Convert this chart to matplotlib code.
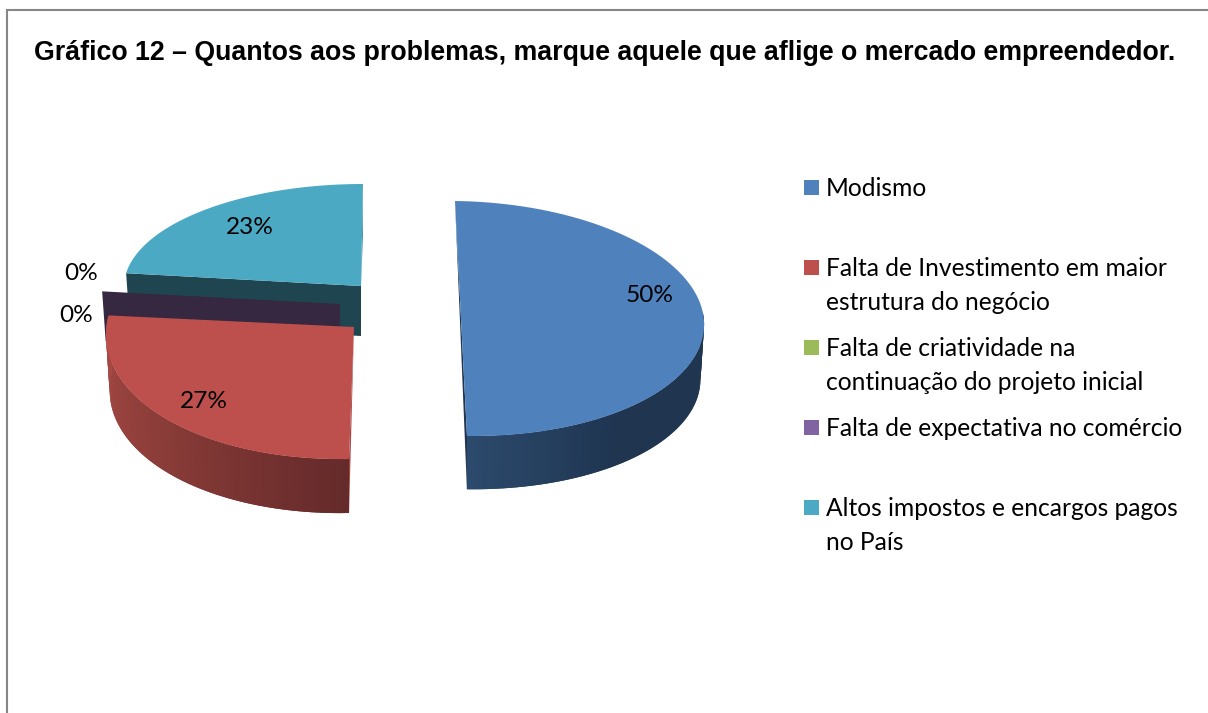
import matplotlib
matplotlib.use('Agg')
import matplotlib.pyplot as plt
from matplotlib.patches import Polygon, Rectangle
import numpy as np

title = 'Gráfico 12 – Quantos aos problemas, marque aquele que aflige o mercado empreendedor.'

categories = [
    'Modismo',
    'Falta de Investimento em maior\nestrutura do negócio',
    'Falta de criatividade na\ncontinuação do projeto inicial',
    'Falta de expectativa no comércio',
    'Altos impostos e encargos pagos\nno País',
]
values = [50, 27, 0, 0, 23]
colors = ['#4F81BD', '#BD4F4C', '#9BBB59', '#8064A2', '#4BA9C3']

W, H = 1208, 713
LOWER_SCALE = 0.985


# geometria de cada fatia em pixels: centro, vetor "direita", vetor "cima", profundidade
geom = {
    0: dict(c=(461, 318.5), right=(243, 3), up=(-6, -117.5), depth=55),
    1: dict(c=(354, 327), right=(248, -5), up=(5, -132), depth=56),
    3: dict(c=(340, 304), right=(240, 0), up=(2, -101), depth=50),
    4: dict(c=(361, 286), right=(237, 0), up=(2, -102), depth=50),
}


def pie_point(g, theta, lower=False):
    """Ponto na borda da fatia; theta em graus, horario a partir do topo"""
    t = np.radians(theta)
    k = LOWER_SCALE if lower else 1.0
    x = g['c'][0] + k * (np.sin(t) * g['right'][0] + np.cos(t) * g['up'][0])
    y = g['c'][1] + k * (np.sin(t) * g['right'][1] + np.cos(t) * g['up'][1])
    if lower:
        y += g['depth']
    return x, y


def centre(g, lower=False):
    return g['c'][0], g['c'][1] + (g['depth'] if lower else 0)


def arc(g, a, b, lower=False, n=90):
    return [pie_point(g, t, lower) for t in np.linspace(a, b, n)]


def mix(stops, f):
    pos = [s[0] for s in stops]
    rgb = np.array([matplotlib.colors.to_rgb(s[1]) for s in stops])
    return tuple(np.interp(f, pos, rgb[:, i]) for i in range(3))


def draw_side(ax, g, a, b, stops, n=70):
    """Lateral curva em tiras sobrepostas para fazer o degrade sem emendas"""
    edges = np.linspace(a, b, n + 1)
    for i in range(n):
        end = edges[min(i + 2, n)]
        pts = arc(g, edges[i], end, n=5) + arc(g, end, edges[i], lower=True, n=5)
        ax.add_patch(Polygon(pts, closed=True, facecolor=mix(stops, (i + 0.5) / n), edgecolor='none'))


def draw_top(ax, g, a, b, color):
    pts = [centre(g)] + arc(g, a, b)
    ax.add_patch(Polygon(pts, closed=True, facecolor=color, edgecolor='none'))


def draw_cut(ax, g, theta, color):
    """Face reta do corte da fatia, do centro ate a borda"""
    pts = [centre(g), pie_point(g, theta), pie_point(g, theta, True), centre(g, True)]
    ax.add_patch(Polygon(pts, closed=True, facecolor=color, edgecolor='none'))


bounds = np.concatenate([[0], np.cumsum(values)]) * 360 / sum(values)

fig = plt.figure(figsize=(W / 100, H / 100), dpi=100)
ax = fig.add_axes([0, 0, 1, 1])
ax.set_xlim(0, W)
ax.set_ylim(H, 0)
ax.axis('off')

# moldura: so aparecem o lado esquerdo e o topo
ax.plot([6.5, 6.5, W], [H, 9.5, 9.5], color='#868686', linewidth=1.5, solid_joinstyle='miter')

ax.text(34, 52.5, title, fontsize=19.25, fontweight='bold', family='Liberation Sans',
        color='black', va='center', ha='left')

# fatia 5 (fundo)
g = geom[4]
ax.add_patch(Polygon([pie_point(g, bounds[5]), pie_point(g, bounds[5], True), centre(g)],
                     closed=True, facecolor='#3D8EA3', edgecolor='none'))
draw_cut(ax, g, bounds[4], '#1F4650')
draw_top(ax, g, bounds[4], bounds[5], colors[4])

# fatias de 0%: so a face do corte aparece
draw_cut(ax, geom[3], bounds[3], '#352840')

# fatia 2
g = geom[1]
draw_side(ax, g, bounds[1], bounds[2], [(0, '#642A2A'), (0.5, '#8A3C38'), (1, '#A84A45')])
ax.add_patch(Polygon([centre(g), pie_point(g, bounds[1], True), pie_point(g, bounds[1])],
                     closed=True, facecolor='#A84543', edgecolor='none'))
draw_top(ax, g, bounds[1], bounds[2], colors[1])

# fatia 1
g = geom[0]
draw_side(ax, g, 85, bounds[1], [(0, '#1F3550'), (0.6, '#1F3550'), (1, '#2C4A6C')])
ax.add_patch(Polygon([pie_point(g, bounds[0]), pie_point(g, bounds[1], True), pie_point(g, bounds[1])],
                     closed=True, facecolor='#1F3550', edgecolor='none'))
draw_top(ax, g, bounds[0], bounds[1], colors[0])

# rotulos de porcentagem
label_pos = [(650, 295), (204, 401), (76, 315), (81, 274), (250, 227)]
for v, (x, y) in zip(values, label_pos):
    ax.text(x, y, f'{v}%', fontsize=17.6, family='Lato', color='black', ha='center', va='center')

# legenda
legend_y = [187, 267, 347, 427, 507]
for name, col, y in zip(categories, colors, legend_y):
    ax.add_patch(Rectangle((804, y - 7.5), 15, 15, facecolor=col, edgecolor='none'))
    for i, line in enumerate(name.split('\n')):
        ax.text(826, y + 1.5 + i * 33.5, line, fontsize=17.7, family='Lato', color='black', ha='left', va='center')

fig.savefig('out.png', dpi=100)
plt.close(fig)
